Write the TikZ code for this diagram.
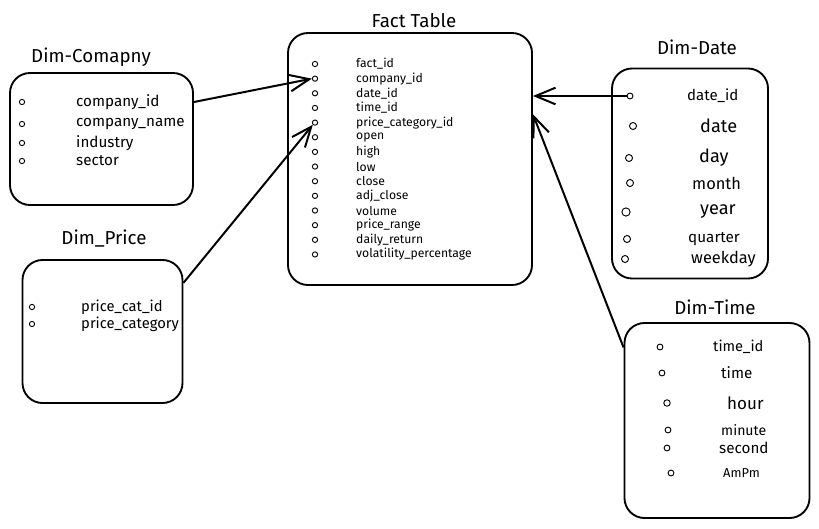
\documentclass[tikz,border=0pt]{standalone}
\usepackage{fontspec}
\setmainfont{Fira Sans}
\usetikzlibrary{arrows.meta}
\begin{document}
\begin{tikzpicture}[x=0.03cm,y=-0.03cm,
  tbl/.style={draw,line width=1.6pt,rounded corners=0.6cm,inner sep=0},
  ttl/.style={font=\fontsize{16}{18}\selectfont},
  dot/.style={draw,circle,line width=0.8pt,inner sep=0,minimum size=#1},
  dot/.default=4.5pt,
  fld/.style={anchor=west,inner sep=0},
  link/.style={line width=1.7pt,-{Straight Barb[length=6mm,width=5mm]}}]
\useasboundingbox (0,0) rectangle (819,528);
\node[tbl,minimum width=7.32cm,minimum height=7.56cm] (fact) at (410,159) {};
\node[tbl,minimum width=5.49cm,minimum height=3.96cm] (comp) at (101.5,139) {};
\node[tbl,minimum width=4.8cm,minimum height=4.29cm] (price) at (102.5,331.5) {};
\node[tbl,minimum width=4.68cm,minimum height=6.3cm] (date) at (690,173.5) {};
\node[tbl,minimum width=5.55cm,minimum height=5.85cm] (time) at (717,420.5) {};
\node[ttl] (fact-t) at (414,21) {Fact Table};
\node[ttl] (comp-t) at (91,57) {Dim-Comapny};
\node[ttl] (price-t) at (104,239) {Dim\_Price};
\node[ttl] (date-t) at (697,47) {Dim-Date};
\node[ttl] (time-t) at (715,307) {Dim-Time};
\foreach \f [count=\i] in {fact\_id,company\_id,date\_id,time\_id,price\_category\_id,open,high,low,close,adj\_close,volume,price\_range,daily\_return,volatility\_percentage}{
  \node[dot] (ft-\i) at (315,{64+(\i-1)*14.65}) {};
  \node[fld,font=\fontsize{10.4}{12}\selectfont] (ftt-\i) at (356,{64+(\i-1)*14.65}) {\f};
}
\foreach \y/\f [count=\i] in {102/company\_id,124/company\_name,143/industry,161/sector}{
  \node[dot] (cp-\i) at (22,\y) {};
  \node[fld,font=\fontsize{13}{15}\selectfont] (cpt-\i) at (76,\y) {\f};
}
\foreach \y/\f [count=\i] in {307/price\_cat\_id,324/price\_category}{
  \node[dot] (pr-\i) at (32,\y) {};
  \node[fld,font=\fontsize{12.6}{14}\selectfont] (prt-\i) at (81,\y) {\f};
}
\foreach \cx/\tx/\y/\fs/\ds/\f [count=\i] in {630/687/96/12.8/5pt/date\_id,633/700/126/15.5/6pt/date,629/699/158/15.5/6pt/day,630/692/183/14/6pt/month,626/700/212/15.5/7pt/year,627/688/239/13/6pt/quarter,625/691/259/14/6pt/weekday}{
  \node[dot=\ds] (dt-\i) at (\cx,\y) {};
  \node[fld,font=\fontsize{\fs}{\fs}\selectfont] (dtt-\i) at (\tx,\y) {\f};
}
\foreach \cx/\tx/\y/\fs/\ds/\f [count=\i] in {660/713/347/12.5/5pt/time\_id,662/721/373/13/5pt/time,667/727/403/14.5/5.5pt/hour,668/721/430/12/5pt/minute,667/719/448/13/5pt/second,671/723/473/11/5pt/AmPm}{
  \node[dot=\ds] (tm-\i) at (\cx,\y) {};
  \node[fld,font=\fontsize{\fs}{\fs}\selectfont] (tmt-\i) at (\tx,\y) {\f};
}
\draw[link] (comp.east |- cp-1) -- (ft-2.west);
\draw[link] (price.31) -- (ft-5.south west);
\draw[link] (dt-1.west) -- (fact.east |- dt-1);
\draw[link] (time.142) -- (fact.20);
\end{tikzpicture}
\end{document}
